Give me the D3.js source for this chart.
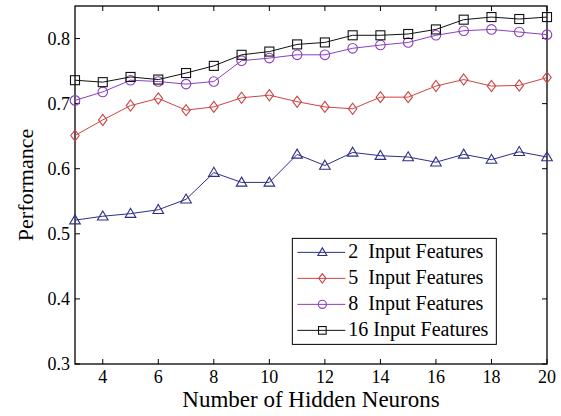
<!DOCTYPE html>
<html>
<head>
<meta charset="utf-8">
<script src="https://cdn.jsdelivr.net/npm/d3@7"></script>
<style>
  body { margin: 0; background: #fff; }
</style>
</head>
<body>
<svg id="chart" width="561" height="416"></svg>
<script>
// Data
const neurons = [3, 4, 5, 6, 7, 8, 9, 10, 11, 12, 13, 14, 15, 16, 17, 18, 19, 20];
const feat2 = [0.521, 0.527, 0.531, 0.537, 0.553, 0.594, 0.579, 0.579, 0.622, 0.605, 0.625, 0.620, 0.618, 0.610, 0.622, 0.614, 0.626, 0.618];
const feat5 = [0.651, 0.675, 0.697, 0.708, 0.690, 0.695, 0.709, 0.713, 0.703, 0.695, 0.692, 0.710, 0.710, 0.727, 0.737, 0.727, 0.728, 0.740];
const feat8 = [0.705, 0.718, 0.736, 0.734, 0.730, 0.734, 0.766, 0.770, 0.775, 0.775, 0.785, 0.790, 0.794, 0.805, 0.812, 0.814, 0.810, 0.806];
const feat16 = [0.736, 0.733, 0.741, 0.737, 0.747, 0.758, 0.775, 0.780, 0.791, 0.794, 0.805, 0.805, 0.807, 0.814, 0.829, 0.833, 0.830, 0.833];
const seriesNames = ["2  Input Features", "5  Input Features", "8  Input Features", "16 Input Features"];
const xTicks = [4, 6, 8, 10, 12, 14, 16, 18, 20];
const yTicks = [0.3, 0.4, 0.5, 0.6, 0.7, 0.8];

const series = [
    { name: seriesNames[0], values: feat2, color: "#2e2e8a", marker: "triangle" },
    { name: seriesNames[1], values: feat5, color: "#cc4444", marker: "diamond" },
    { name: seriesNames[2], values: feat8, color: "#8a3fc0", marker: "circle" },
    { name: seriesNames[3], values: feat16, color: "#111111", marker: "square" }
];

const serif = "Times New Roman, Liberation Serif, Tinos, DejaVu Serif, serif";

const margin = { top: 6, right: 14, bottom: 52, left: 75 };
const width = 561 - margin.left - margin.right;
const height = 416 - margin.top - margin.bottom;

const svg = d3.select("#chart")
    .append("g")
    .attr("transform", `translate(${margin.left},${margin.top})`);

const x = d3.scaleLinear().domain([3, 20]).range([0, width]);
const y = d3.scaleLinear().domain([0.3, 0.85]).range([height, 0]);

// Box
svg.append("rect")
    .attr("width", width)
    .attr("height", height)
    .attr("fill", "none")
    .attr("stroke", "#000")
    .attr("stroke-width", 1.3);

// Inward ticks on all four sides
const tickLen = 5;
svg.append("g").selectAll("line").data(xTicks).join("line")
    .attr("x1", d => x(d)).attr("x2", d => x(d))
    .attr("y1", height).attr("y2", height - tickLen)
    .attr("stroke", "#000");
svg.append("g").selectAll("line").data(xTicks).join("line")
    .attr("x1", d => x(d)).attr("x2", d => x(d))
    .attr("y1", 0).attr("y2", tickLen)
    .attr("stroke", "#000");
svg.append("g").selectAll("line").data(yTicks).join("line")
    .attr("x1", 0).attr("x2", tickLen)
    .attr("y1", d => y(d)).attr("y2", d => y(d))
    .attr("stroke", "#000");
svg.append("g").selectAll("line").data(yTicks).join("line")
    .attr("x1", width).attr("x2", width - tickLen)
    .attr("y1", d => y(d)).attr("y2", d => y(d))
    .attr("stroke", "#000");

// Tick labels
svg.append("g").selectAll("text").data(xTicks).join("text")
    .attr("x", d => x(d))
    .attr("y", height + 19)
    .attr("text-anchor", "middle")
    .style("font-family", serif)
    .style("font-size", "18px")
    .text(d => d);
svg.append("g").selectAll("text").data(yTicks).join("text")
    .attr("x", -5)
    .attr("y", d => y(d) + 6)
    .attr("text-anchor", "end")
    .style("font-family", serif)
    .style("font-size", "18px")
    .text(d => d3.format(".1f")(d));

// Axis titles
svg.append("text")
    .attr("x", width / 2)
    .attr("y", height + 43)
    .attr("text-anchor", "middle")
    .style("font-family", serif)
    .style("font-size", "23px")
    .text("Number of Hidden Neurons");
svg.append("text")
    .attr("transform", "rotate(-90)")
    .attr("x", -height / 2)
    .attr("y", -42)
    .attr("text-anchor", "middle")
    .style("font-family", serif)
    .style("font-size", "22px")
    .text("Performance");

// Marker drawing
function drawMarker(g, type, cx, cy, color, s) {
    if (type === "triangle") {
        g.append("path")
            .attr("d", `M${cx},${cy - s}L${cx + s},${cy + s * 0.7}L${cx - s},${cy + s * 0.7}Z`)
            .attr("fill", "none").attr("stroke", color).attr("stroke-width", 1.1);
    } else if (type === "diamond") {
        g.append("path")
            .attr("d", `M${cx},${cy - s * 1.05}L${cx + s * 0.8},${cy}L${cx},${cy + s * 1.05}L${cx - s * 0.8},${cy}Z`)
            .attr("fill", "none").attr("stroke", color).attr("stroke-width", 1.1);
    } else if (type === "circle") {
        g.append("circle")
            .attr("cx", cx).attr("cy", cy).attr("r", s * 0.9)
            .attr("fill", "none").attr("stroke", color).attr("stroke-width", 1.1);
    } else {
        g.append("rect")
            .attr("x", cx - s * 0.85).attr("y", cy - s * 0.85)
            .attr("width", s * 1.7).attr("height", s * 1.7)
            .attr("fill", "none").attr("stroke", color).attr("stroke-width", 1.1);
    }
}

const line = d3.line()
    .x((d, i) => x(neurons[i]))
    .y(d => y(d));

series.forEach(s => {
    const g = svg.append("g");
    g.append("path")
        .datum(s.values)
        .attr("d", line)
        .attr("fill", "none")
        .attr("stroke", s.color)
        .attr("stroke-width", 1);
    s.values.forEach((v, i) => drawMarker(g, s.marker, x(neurons[i]), y(v), s.color, 5.3));
});

// Legend
const legend = svg.append("g")
    .attr("transform", `translate(${x(11.08) - 7}, ${y(0.493)})`);
legend.append("rect")
    .attr("width", 204)
    .attr("height", 106)
    .attr("fill", "#fff")
    .attr("stroke", "#000")
    .attr("stroke-width", 1);
series.forEach((s, i) => {
    const ly = 14 + i * 26;
    legend.append("line")
        .attr("x1", 5).attr("x2", 53)
        .attr("y1", ly).attr("y2", ly)
        .attr("stroke", s.color);
    drawMarker(legend, s.marker, 30, ly, s.color, 4.5);
    legend.append("text")
        .attr("x", 56)
        .attr("y", ly + 6)
        .style("font-family", serif)
        .style("font-size", "20px")
        .attr("xml:space", "preserve")
        .style("white-space", "pre")
        .text(s.name);
});
</script>
</body>
</html>
